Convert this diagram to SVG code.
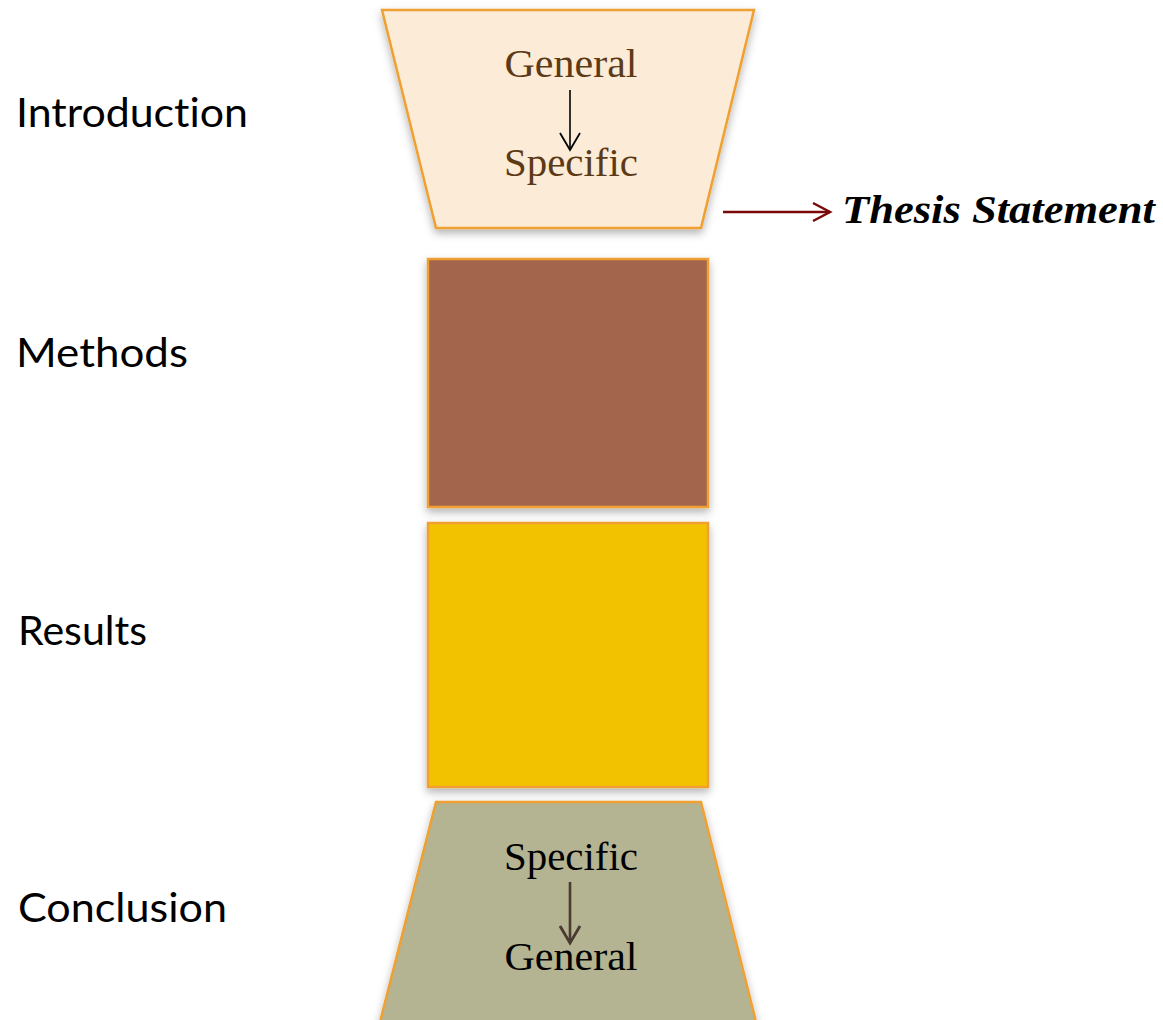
<svg xmlns="http://www.w3.org/2000/svg" width="1163" height="1020" viewBox="0 0 1163 1020">
<style>
.lbl{font-family:"Lato","Liberation Sans",sans-serif;font-size:40px;fill:#000;font-variant-ligatures:none}
.inner{font-family:"Liberation Serif","DejaVu Serif",serif;font-size:40px;text-anchor:middle}
.shape{stroke:#f0a030;stroke-width:2.5}
</style>
<defs>
<filter id="sh" x="-10%" y="-10%" width="120%" height="125%">
<feDropShadow dx="0" dy="4" stdDeviation="4" flood-color="#000" flood-opacity="0.3"/>
</filter>
<marker id="ahK" markerWidth="24" markerHeight="24" refX="18" refY="12" orient="auto" markerUnits="userSpaceOnUse">
<path d="M1,2 L18,12 L1,22" fill="none" stroke="#000" stroke-width="1.8"/>
</marker>
<marker id="ahB" markerWidth="24" markerHeight="24" refX="18" refY="12" orient="auto" markerUnits="userSpaceOnUse">
<path d="M1,2 L18,12 L1,22" fill="none" stroke="#4a3a30" stroke-width="2.8"/>
</marker>
<marker id="ahT" markerWidth="22" markerHeight="22" refX="19" refY="11" orient="auto" markerUnits="userSpaceOnUse">
<path d="M2,2 L19,11 L2,20" fill="none" stroke="#7a0a0a" stroke-width="2.5"/>
</marker>
</defs>
<rect width="1163" height="1020" fill="#fff"/>
<g id="labels">
<text class="lbl" x="16" y="127" textLength="232" lengthAdjust="spacingAndGlyphs">Introduction</text>
<text class="lbl" x="16" y="367" textLength="172" lengthAdjust="spacingAndGlyphs">Methods</text>
<text class="lbl" x="18" y="645" textLength="129" lengthAdjust="spacingAndGlyphs">Results</text>
<text class="lbl" x="18" y="922" textLength="209" lengthAdjust="spacingAndGlyphs">Conclusion</text>
</g>
<g id="introduction">
<polygon class="shape" points="382,10 754,10 701,228 436,228" fill="#fcebd6" filter="url(#sh)"/>
<text class="inner" x="571" y="77" fill="#5c3a16" textLength="133" lengthAdjust="spacingAndGlyphs">General</text>
<text class="inner" x="571" y="176" fill="#5c3a16" textLength="134" lengthAdjust="spacingAndGlyphs">Specific</text>
</g>
<g id="methods">
<rect class="shape" x="428" y="259" width="280" height="248" fill="#a4654e" filter="url(#sh)"/>
</g>
<g id="results">
<rect class="shape" x="428" y="523" width="280" height="264" fill="#f2c200" filter="url(#sh)"/>
</g>
<g id="conclusion">
<polygon class="shape" points="436,802 701,802 756,1022 380,1022" fill="#b4b392" filter="url(#sh)"/>
<text class="inner" x="571" y="870" fill="#000" textLength="134" lengthAdjust="spacingAndGlyphs">Specific</text>
<text class="inner" x="571" y="970" fill="#000" textLength="133" lengthAdjust="spacingAndGlyphs">General</text>
</g>
<g id="thesis">
<text x="842" y="223" font-family="Liberation Serif, DejaVu Serif, serif" font-size="40" font-weight="bold" font-style="italic" fill="#000" textLength="313" lengthAdjust="spacingAndGlyphs">Thesis Statement</text>
</g>
<g id="connectors">
<line x1="570" y1="90" x2="570" y2="150" stroke="#000" stroke-width="1.6" marker-end="url(#ahK)"/>
<line x1="570" y1="882" x2="570" y2="943" stroke="#4a3a30" stroke-width="2.6" marker-end="url(#ahB)"/>
<line x1="723" y1="212" x2="830" y2="212" stroke="#7a0a0a" stroke-width="2.5" marker-end="url(#ahT)"/>
</g>
</svg>
